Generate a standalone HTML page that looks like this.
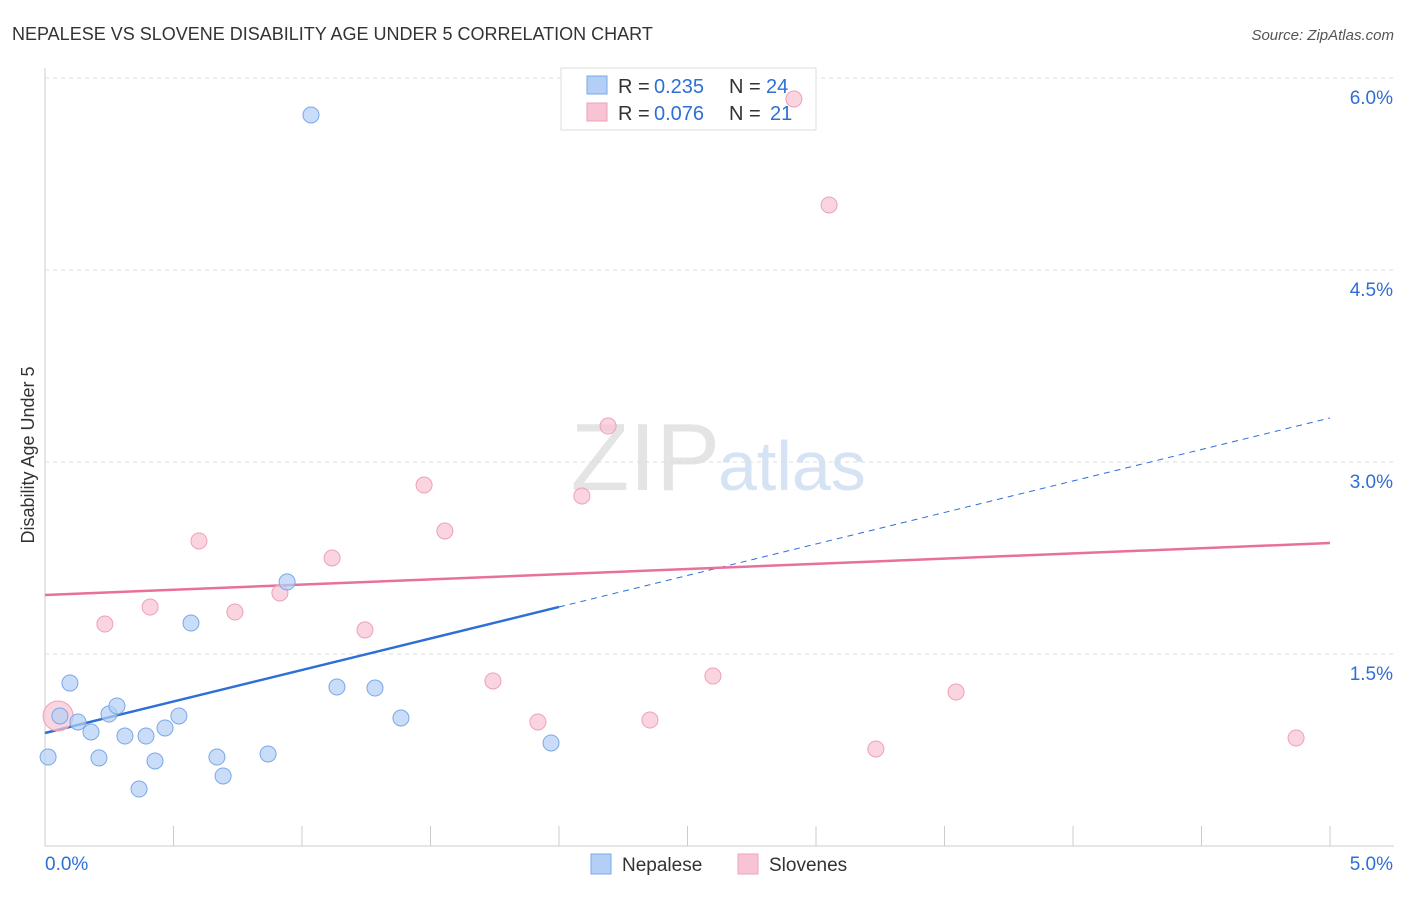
<!DOCTYPE html>
<html><head><meta charset="utf-8"><style>
body{margin:0;background:#fff;font-family:"Liberation Sans",sans-serif}
svg text{font-family:"Liberation Sans",sans-serif}
</style></head><body>
<svg id="chart" width="1406" height="892">
<text x="12" y="40" font-size="18" fill="#333">NEPALESE VS SLOVENE DISABILITY AGE UNDER 5 CORRELATION CHART</text>
<text x="1394" y="40" font-size="15" fill="#555" font-style="italic" text-anchor="end">Source: ZipAtlas.com</text>
<text x="720" y="490" font-size="96" fill="#e4e4e4" text-anchor="end" font-family="Liberation Serif">ZIP</text>
<text x="718" y="490" font-size="70" fill="#d6e3f5">atlas</text>
<text transform="translate(34,455) rotate(-90)" font-size="18" fill="#333" text-anchor="middle">Disability Age Under 5</text>
<g id="grid"></g>
<g>
<rect x="561" y="68" width="255" height="62" fill="#fff" stroke="#ddd"/>
<rect x="587" y="76" width="20" height="18" fill="#b3cff5" stroke="#7aa7e8"/>
<rect x="587" y="103" width="20" height="18" fill="#f8c3d3" stroke="#eea0b8"/>
<text x="618" y="93" font-size="20" fill="#333">R =</text>
<text x="654" y="93" font-size="20" fill="#2e6fd6">0.235</text>
<text x="729" y="93" font-size="20" fill="#333">N =</text>
<text x="766" y="93" font-size="20" fill="#2e6fd6">24</text>
<text x="618" y="120" font-size="20" fill="#333">R =</text>
<text x="654" y="120" font-size="20" fill="#2e6fd6">0.076</text>
<text x="729" y="120" font-size="20" fill="#333">N =</text>
<text x="770" y="120" font-size="20" fill="#2e6fd6">21</text>
</g>
<g id="lines"></g><g id="pts"></g>
<g>
<rect x="591" y="854" width="20" height="20" fill="#b3cff5" stroke="#7aa7e8"/>
<text x="622" y="871" font-size="19" fill="#333">Nepalese</text>
<rect x="738" y="854" width="20" height="20" fill="#f8c3d3" stroke="#eea0b8"/>
<text x="769" y="871" font-size="19" fill="#333">Slovenes</text>
</g>
</svg>
<script>
const yTicks=[1.5,3.0,4.5,6.0];
const yTickLabels=["1.5%","3.0%","4.5%","6.0%"];
const xTicks=[0,0.5,1,1.5,2,2.5,3,3.5,4,4.5,5];
const nepX=[1.035,0.012,0.097,0.058,0.128,0.179,0.210,0.249,0.280,0.311,0.366,0.393,0.428,0.467,0.521,0.568,0.669,0.693,0.868,0.942,1.136,1.284,1.385,1.969];
const nepY=[5.711,0.695,1.273,1.016,0.969,0.891,0.688,1.031,1.094,0.859,0.445,0.859,0.664,0.922,1.016,1.742,0.695,0.547,0.719,2.063,1.242,1.234,1.000,0.805];
const sloX=[0.051,0.233,0.409,0.599,0.739,0.914,1.117,1.245,1.475,1.556,1.743,1.918,2.089,2.191,2.354,2.599,2.914,3.051,3.233,3.545,4.868];
const sloY=[1.016,1.734,1.867,2.383,1.828,1.977,2.250,1.688,2.820,2.461,1.289,0.969,2.734,3.281,0.984,1.328,5.836,5.008,0.758,1.203,0.844];
const nepLine=[0.883,3.344];
const sloLine=[1.961,2.367];
const NS="http://www.w3.org/2000/svg";
const X=v=>45+v*257, Y=v=>846-v*128;
function mk(t,a,p){const e=document.createElementNS(NS,t);for(const k in a)e.setAttribute(k,a[k]);p.appendChild(e);return e;}
const g=document.getElementById('grid');
let ax=mk('line',{x1:45,y1:68,x2:45,y2:846,stroke:'#ccc'},g);


let bx=mk('line',{x1:45,y1:846,x2:1394,y2:846,stroke:'#ccc'},g);


yTicks.forEach((t,i)=>{
 const gl=mk('line',{x1:45,x2:1394,y1:Y(t),y2:Y(t),stroke:'#ddd','stroke-dasharray':'4,4'},g);
 
 
 const tx=mk('text',{x:1393,y:Y(t)+26,'font-size':19,fill:'#2e6fd6','text-anchor':'end'},g);
 tx.textContent=yTickLabels[i];
 
 
});
xTicks.forEach(t=>{
 const tk=mk('line',{x1:X(t),x2:X(t),y1:826,y2:846,stroke:'#ccc'},g);
 
 
});
let l0=mk('text',{x:45,y:870,'font-size':19,fill:'#2e6fd6'},g);l0.textContent='0.0%';


let l1=mk('text',{x:1393,y:870,'font-size':19,fill:'#2e6fd6','text-anchor':'end'},g);l1.textContent='5.0%';


const L=document.getElementById('lines');
const nAt=x=>nepLine[0]+(nepLine[1]-nepLine[0])*x/5;
let ln=mk('line',{x1:X(0),y1:Y(nAt(0)),x2:X(2),y2:Y(nAt(2)),stroke:'#2e6fd6','stroke-width':2.5},L);


let ld=mk('line',{x1:X(2),y1:Y(nAt(2)),x2:X(5),y2:Y(nAt(5)),stroke:'#2e6fd6','stroke-width':1,'stroke-dasharray':'6,5'},L);


let ls=mk('line',{x1:X(0),y1:Y(sloLine[0]),x2:X(5),y2:Y(sloLine[1]),stroke:'#e8709a','stroke-width':2.5},L);


const P=document.getElementById('pts');
sloX.forEach((x,i)=>{
 const c=mk('circle',{cx:X(x),cy:Y(sloY[i]),r:i==0?15:8,fill:'#f8c3d3','fill-opacity':0.7,stroke:'#eea0b8'},P);
 
 
});
nepX.forEach((x,i)=>{
 const c=mk('circle',{cx:X(x),cy:Y(nepY[i]),r:8,fill:'#b3cff5','fill-opacity':0.7,stroke:'#7aa7e8'},P);
 
 
});
</script>
</body></html>
